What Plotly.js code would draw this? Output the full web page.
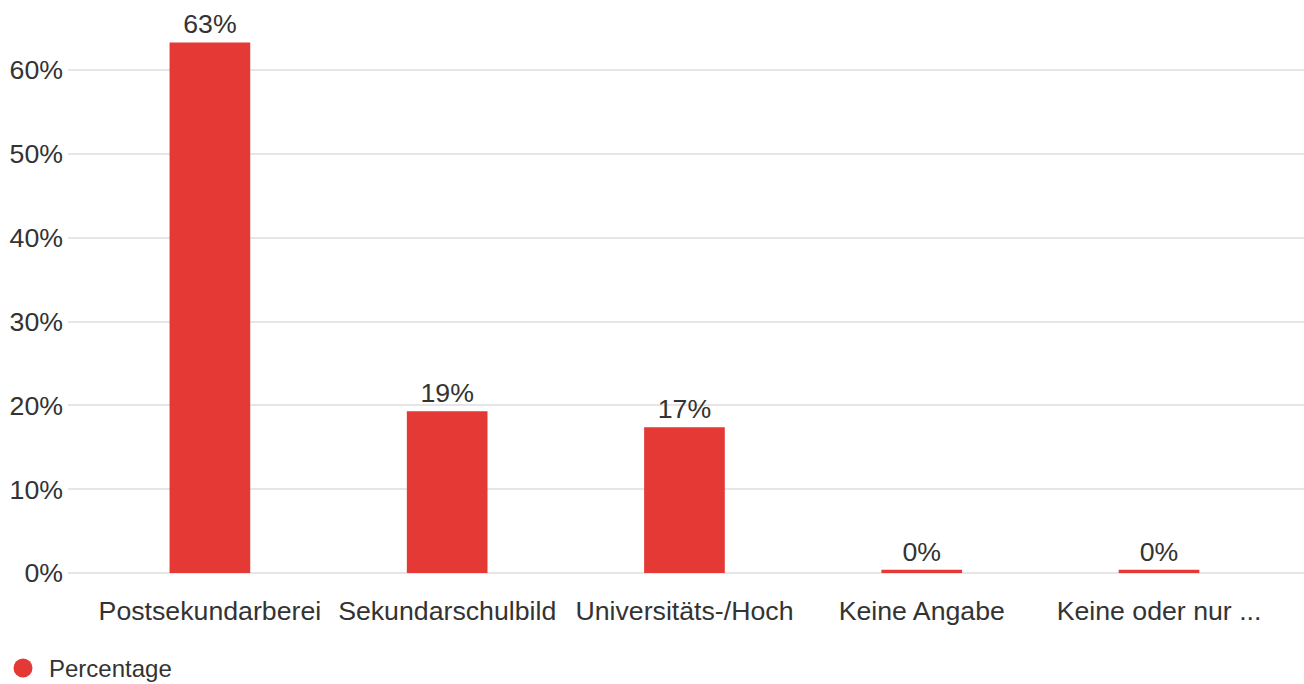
<!DOCTYPE html>
<html>
<head>
<meta charset="utf-8">
<script src="https://cdn.plot.ly/plotly-3.0.1.min.js"></script>
<style>html,body{margin:0;padding:0;background:#fff;}#chart{width:1304px;height:684px;}</style>
</head>
<body>
<div id="chart"></div>
<script>
const categories = ["Postsekundarberei", "Sekundarschulbild", "Universitäts-/Hoch", "Keine Angabe", "Keine oder nur ..."];
const percentage = [0.633, 0.193, 0.174, 0.004, 0.004];
const seriesName = "Percentage";
const yTickVals = [0, 0.1, 0.2, 0.3, 0.4, 0.5, 0.6];
const yTickText = ["0%", "10%", "20%", "30%", "40%", "50%", "60%"];

const red = "#e53935";
const font = "Liberation Sans, Arial, sans-serif";
const textColor = "#333333";

const traces = [
  {
    type: "bar",
    name: seriesName,
    x: categories,
    y: percentage,
    width: 0.34,
    marker: {color: red},
    texttemplate: "%{y:.0%}",
    textposition: "outside",
    cliponaxis: false,
    textfont: {family: font, size: 26.7, color: textColor},
    showlegend: false,
    hoverinfo: "x+y"
  }
];

const layout = {
  width: 1304,
  height: 684,
  margin: {l: 68, r: 0, t: 20, b: 111, autoexpand: false},
  paper_bgcolor: "#ffffff",
  plot_bgcolor: "#ffffff",
  font: {family: font, color: textColor, size: 26.7},
  xaxis: {
    type: "category",
    range: [-0.598, 4.611],
    showgrid: false,
    zeroline: false,
    showline: false,
    ticks: "",
    ticklabelstandoff: 19,
    tickfont: {family: font, size: 26.7, color: textColor},
    automargin: false,
    fixedrange: true
  },
  yaxis: {
    range: [0, 0.6597],
    tickvals: yTickVals,
    ticktext: yTickText,
    showgrid: true,
    gridcolor: "#e6e6e6",
    gridwidth: 2,
    zeroline: true,
    zerolinecolor: "#e6e6e6",
    zerolinewidth: 2,
    showline: false,
    ticks: "",
    ticklabelstandoff: 4,
    tickfont: {family: font, size: 26.7, color: textColor},
    automargin: false,
    fixedrange: true
  },
  showlegend: false,
  shapes: [
    {
      type: "circle",
      xref: "paper", yref: "paper",
      xsizemode: "pixel", ysizemode: "pixel",
      xanchor: -0.0364, yanchor: -0.1718,
      x0: -9.5, x1: 9.5, y0: -9.5, y1: 9.5,
      fillcolor: red,
      line: {width: 0}
    }
  ],
  annotations: [
    {
      xref: "paper", yref: "paper",
      x: -0.017, y: -0.1718,
      xanchor: "left", yanchor: "middle",
      text: seriesName,
      showarrow: false,
      font: {family: font, size: 24, color: textColor}
    }
  ]
};

Plotly.newPlot("chart", traces, layout, {displayModeBar: false, staticPlot: true});
</script>
</body>
</html>
